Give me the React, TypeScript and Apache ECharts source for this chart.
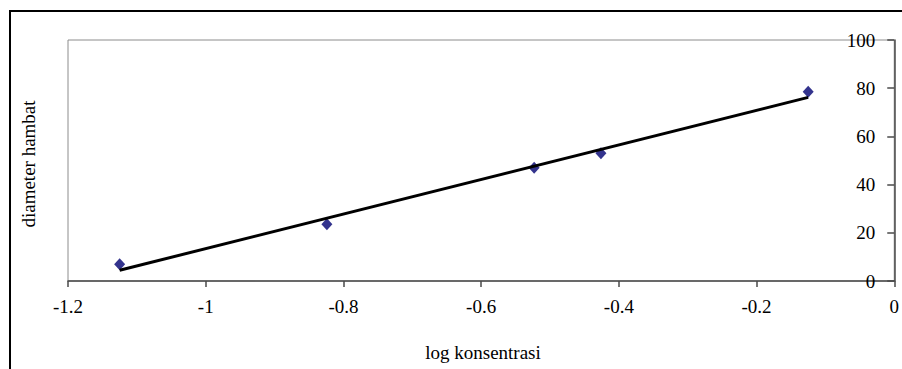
import React, { useEffect, useRef } from "react";
import * as echarts from "echarts";

const logKonsentrasi = [-1.125, -0.824, -0.523, -0.426, -0.125];
const diameterHambat = [7, 23.5, 47, 53, 78.5];
const xTicks = [-1.2, -1, -0.8, -0.6, -0.4, -0.2, 0];
const yTicks = [0, 20, 40, 60, 80, 100];
const xTitle = "log konsentrasi";
const yTitle = "diameter hambat";

function fitLine(xs: number[], ys: number[]) {
  const n = xs.length;
  const mx = xs.reduce((a, b) => a + b, 0) / n;
  const my = ys.reduce((a, b) => a + b, 0) / n;
  let sxy = 0;
  let sxx = 0;
  for (let i = 0; i < n; i++) {
    sxy += (xs[i] - mx) * (ys[i] - my);
    sxx += (xs[i] - mx) * (xs[i] - mx);
  }
  const slope = sxy / sxx;
  const icpt = my - slope * mx;
  const x0 = Math.min(...xs);
  const x1 = Math.max(...xs);
  return [
    [x0, icpt + slope * x0],
    [x1, icpt + slope * x1],
  ];
}

export default function App() {
  const ref = useRef<HTMLDivElement>(null);
  useEffect(() => {
    if (!ref.current) return;
    const chart = echarts.init(ref.current, undefined, { renderer: "svg" });
    const font = "'Liberation Serif', 'Times New Roman', serif";
    chart.setOption({
      animation: false,
      backgroundColor: "#ffffff",
      grid: {
        left: 68,
        top: 40,
        right: 3,
        bottom: 88,
        show: true,
        borderColor: "#8c8c8c",
        borderWidth: 1,
        containLabel: false,
      },
      xAxis: {
        type: "value",
        min: xTicks[0],
        max: xTicks[xTicks.length - 1],
        interval: 0.2,
        splitLine: { show: false },
        axisLine: { show: true, onZero: false, lineStyle: { color: "#4a4a4a", width: 1.5 } },
        axisTick: { show: true, length: 6, lineStyle: { color: "#4a4a4a", width: 1.5 } },
        axisLabel: {
          margin: 16,
          fontFamily: font,
          fontSize: 19,
          color: "#000",
          formatter: (v: number) => String(Math.round(v * 10) / 10),
        },
      },
      yAxis: {
        type: "value",
        position: "right",
        min: yTicks[0],
        max: yTicks[yTicks.length - 1],
        interval: 20,
        splitLine: { show: false },
        axisLine: { show: true, onZero: false, lineStyle: { color: "#4a4a4a", width: 1.5 } },
        axisTick: { show: true, inside: true, length: 7, lineStyle: { color: "#4a4a4a", width: 1.5 } },
        axisLabel: {
          inside: true,
          margin: 19,
          fontFamily: font,
          fontSize: 19,
          color: "#000",
          padding: [0, 0, 6, 0],
        },
      },
      graphic: [
        {
          type: "rect",
          shape: { x: 10, y: 11, width: 1200, height: 1200 },
          style: { fill: "none", stroke: "#000", lineWidth: 2 },
          silent: true,
        },
        {
          type: "text",
          x: 483,
          y: 352,
          style: {
            text: xTitle,
            font: `19px ${font}`,
            fill: "#000",
            align: "center",
            verticalAlign: "middle",
          },
        },
        {
          type: "text",
          x: 28,
          y: 164,
          rotation: Math.PI / 2,
          style: {
            text: yTitle,
            font: `19px ${font}`,
            fill: "#000",
            align: "center",
            verticalAlign: "middle",
          },
        },
      ],
      series: [
        {
          type: "scatter",
          data: logKonsentrasi.map((x, i) => [x, diameterHambat[i]]),
          symbol: "diamond",
          symbolSize: [11, 12],
          itemStyle: { color: "#000070" },
          z: 3,
        },
        {
          type: "line",
          data: fitLine(logKonsentrasi, diameterHambat),
          showSymbol: false,
          symbol: "none",
          lineStyle: { color: "#000", width: 3 },
          z: 4,
        },
      ],
    });
    return () => chart.dispose();
  }, []);
  return (
    <div
      ref={ref}
      style={{ position: "absolute", left: 0, top: 0, width: 902, height: 369 }}
    />
  );
}
